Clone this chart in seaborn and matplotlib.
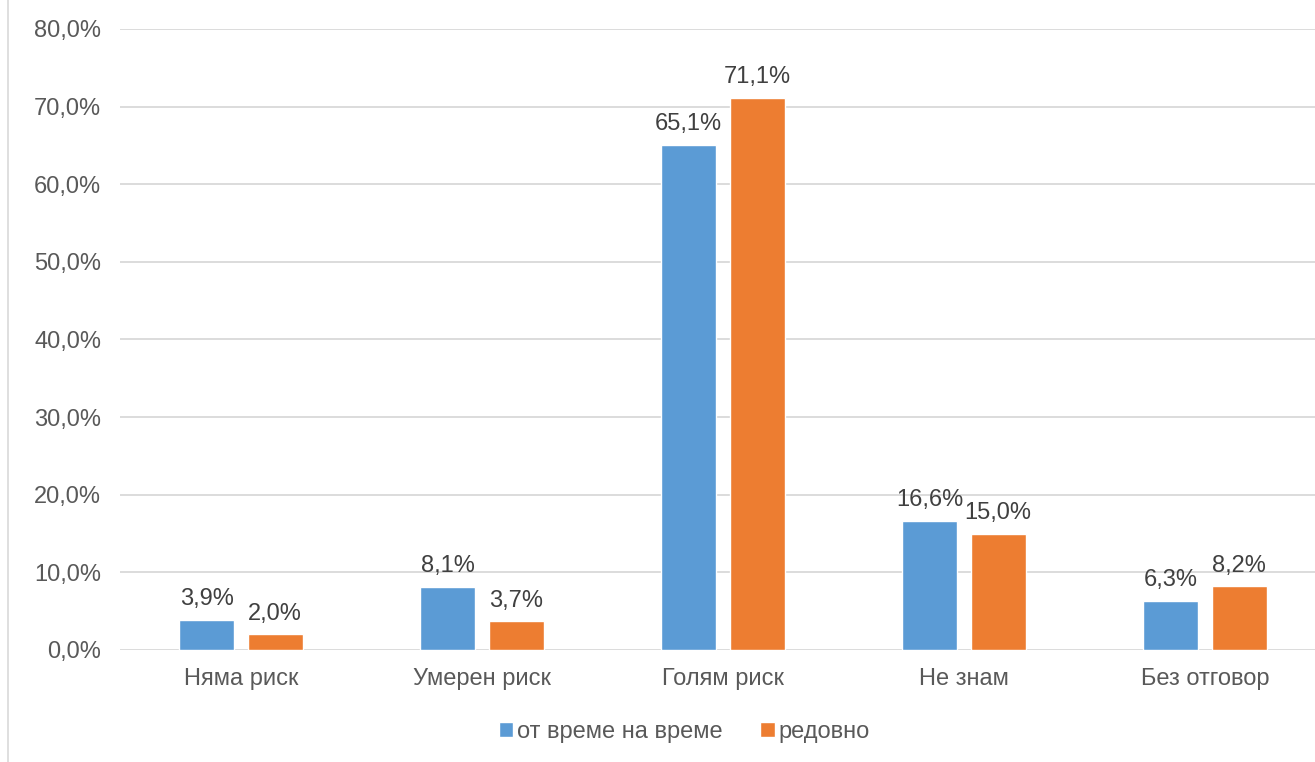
import pandas as pd
import seaborn as sns
import matplotlib.pyplot as plt
from matplotlib.lines import Line2D
from matplotlib.ticker import FuncFormatter

# Chart data
categories = ["Няма риск", "Умерен риск", "Голям риск", "Не знам", "Без отговор"]
series_names = ["от време на време", "редовно"]
occasionally = [3.9, 8.1, 65.1, 16.6, 6.3]
regularly = [2.0, 3.7, 71.1, 15.0, 8.2]
colors = ["#5B9BD5", "#ED7D31"]

df = pd.DataFrame({
    "category": categories * 2,
    "series": [series_names[0]] * 5 + [series_names[1]] * 5,
    "value": occasionally + regularly,
})

sns.set_theme(style="white")
plt.rcParams["font.family"] = ["Liberation Sans", "DejaVu Sans"]
fs = 17

fig = plt.figure(figsize=(13.15, 7.62), dpi=100)
ax = fig.add_axes([0.0916, 0.147, 0.9163, 0.815])

sns.barplot(data=df, x="category", y="value", hue="series", order=categories,
            hue_order=series_names, palette=colors, width=0.57, gap=0.2,
            saturation=1, ax=ax, legend=True)

ax.set_ylim(0, 80)
ax.set_yticks(range(0, 81, 10))
ax.yaxis.set_major_formatter(FuncFormatter(lambda v, p: f"{v:.1f}%".replace(".", ",")))
ax.grid(axis="y", color="#D9D9D9", linewidth=1.3)
ax.set_axisbelow(True)
for s in ax.spines.values():
    s.set_visible(False)
ax.set_xlabel("")
ax.set_ylabel("")
ax.tick_params(axis="both", length=0, labelsize=fs, labelcolor="#595959")
ax.tick_params(axis="y", pad=14)
ax.tick_params(axis="x", pad=13)
ax.set_xlim(-0.5, 4.5)

for cont in ax.containers:
    ax.bar_label(cont, labels=[f"{v:.1f}%".replace(".", ",") for v in cont.datavalues],
                 padding=7, fontsize=fs, color="#404040")

handles, labels = ax.get_legend_handles_labels()
ax.legend(handles, labels, loc="upper center", bbox_to_anchor=(0.468, -0.08),
          ncol=2, frameon=False, fontsize=fs, labelcolor="#595959",
          handlelength=0.6, handleheight=0.6, handletextpad=0.15, columnspacing=1.6)

# chart border on the left edge
fig.add_artist(Line2D([8 / 1315, 8 / 1315], [0, 1], color="#D9D9D9", linewidth=1.2,
                      transform=fig.transFigure))

fig.savefig("out.png", dpi=100)
